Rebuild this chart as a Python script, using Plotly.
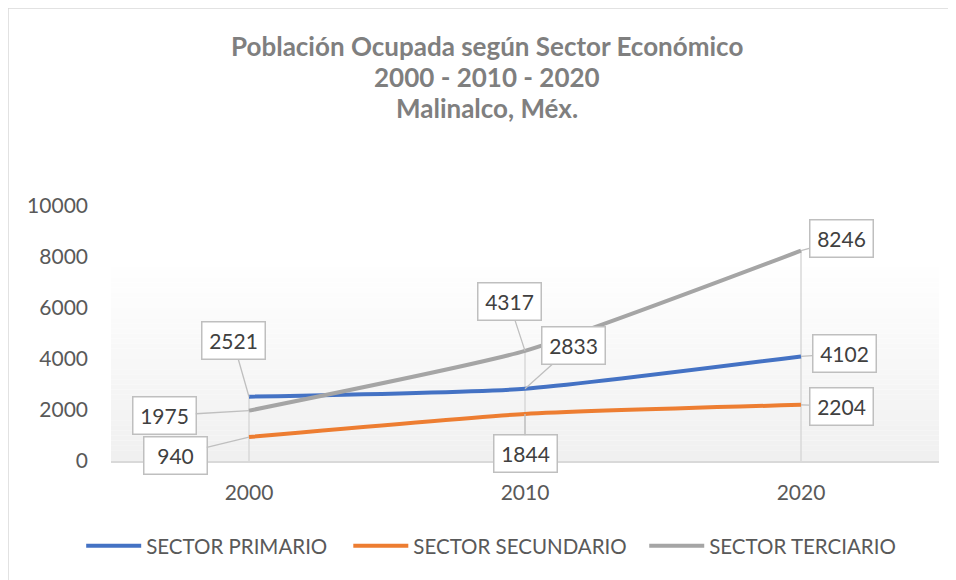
import plotly.graph_objects as go

# ---- data ----
years = ["2000", "2010", "2020"]
primario = [2521, 2833, 4102]
secundario = [940, 1844, 2204]
terciario = [1975, 4317, 8246]
series_names = ["SECTOR PRIMARIO", "SECTOR SECUNDARIO", "SECTOR TERCIARIO"]
title_lines = ["Población Ocupada según Sector Económico", "2000 - 2010 - 2020", "Malinalco, Méx."]
y_ticks = [0, 2000, 4000, 6000, 8000, 10000]
y_ticktext = [str(v) for v in y_ticks]

# ---- style ----
colors = ["#4472C4", "#ED7D31", "#A5A5A5"]
FONT = "Lato"
# label box offsets (pixels, box centre relative to point)
label_offsets = [
    [(-16, -56), (48, -43), (43, -3)],
    [(-74, 18), (0, 40), (40, 2)],
    [(-85, 5), (-16, -49), (40, -12)],
]
legend_x = [-0.036, 0.2866, 0.644]
legend_ids = ["legend", "legend2", "legend3"]

fig = go.Figure()

all_series = [primario, secundario, terciario]
idx = list(range(len(years)))

# drop lines from the highest value down to the axis
dx, dy = [], []
for i in idx:
    dx += [i, i, None]
    dy += [0, max(s[i] for s in all_series), None]
fig.add_trace(go.Scatter(x=dx, y=dy, mode="lines", line=dict(color="#d9d9d9", width=1.5),
                         showlegend=False, hoverinfo="skip"))

for name, vals, col, lg in zip(series_names, all_series, colors, legend_ids):
    fig.add_trace(go.Scatter(x=idx, y=vals, name=name, mode="lines", legend=lg,
                             line=dict(color=col, width=4, shape="spline", smoothing=0.5)))

shapes = []
N = 40
top = 0.8
for k in range(N):
    t = k / (N - 1)
    c = int(round(240 + (255 - 240) * t))
    shapes.append(dict(type="rect", xref="paper", yref="paper", x0=0, x1=1,
                       y0=top * k / N, y1=top * (k + 1) / N,
                       fillcolor=f"rgb({c},{c},{c})", line=dict(width=0), layer="below"))
shapes.append(dict(type="rect", xref="paper", yref="paper", x0=-0.1244, x1=1.06,
                   y0=-0.6, y1=1.7765, line=dict(color="#d9d9d9", width=1.5),
                   fillcolor="rgba(0,0,0,0)", layer="below"))

annotations = []
for ty, txt in zip([1.6275, 1.5059, 1.3843], title_lines):
    annotations.append(dict(xref="paper", yref="paper", x=0.4541, y=ty, text=f"<b>{txt}</b>",
                            showarrow=False, xanchor="center", yanchor="middle",
                            font=dict(family=FONT, size=26, color="#7f7f7f")))

for s_idx, vals in enumerate(all_series):
    for i in idx:
        ax, ay = label_offsets[s_idx][i]
        annotations.append(dict(x=i, y=vals[i], xref="x", yref="y", text=str(vals[i]),
                                showarrow=True, arrowhead=0, arrowwidth=1.3, arrowcolor="#bfbfbf",
                                ax=ax, ay=ay, standoff=0,
                                bgcolor="white", bordercolor="#bfbfbf", borderwidth=1.5,
                                borderpad=2, width=58, height=32,
                                font=dict(family=FONT, size=21, color="#404040")))

legend_common = dict(orientation="h", xanchor="left", y=-0.333, yanchor="middle",
                     font=dict(family=FONT, size=20.5, color="#595959"),
                     bgcolor="rgba(0,0,0,0)", itemwidth=55)

fig.update_layout(
    width=948, height=572, autosize=False,
    margin=dict(l=103, r=17, t=198, b=119),
    paper_bgcolor="white", plot_bgcolor="white",
    font=dict(family=FONT, size=21, color="#595959"),
    showlegend=True,
    legend=dict(x=legend_x[0], **legend_common),
    legend2=dict(x=legend_x[1], **legend_common),
    legend3=dict(x=legend_x[2], **legend_common),
    shapes=shapes, annotations=annotations,
    xaxis=dict(range=[-0.5, 2.5], tickvals=idx, ticktext=years, showline=True,
               linecolor="#d9d9d9", linewidth=1.5, showgrid=False, zeroline=False, ticks="",
               ticklabelstandoff=12, tickfont=dict(family=FONT, size=21, color="#595959")),
    yaxis=dict(range=[0, 10000], tickvals=y_ticks, ticktext=y_ticktext, showgrid=False,
               zeroline=False, showline=False, ticks="", ticklabelstandoff=22,
               tickfont=dict(family=FONT, size=21, color="#595959")),
)

fig.write_html("out.html")
